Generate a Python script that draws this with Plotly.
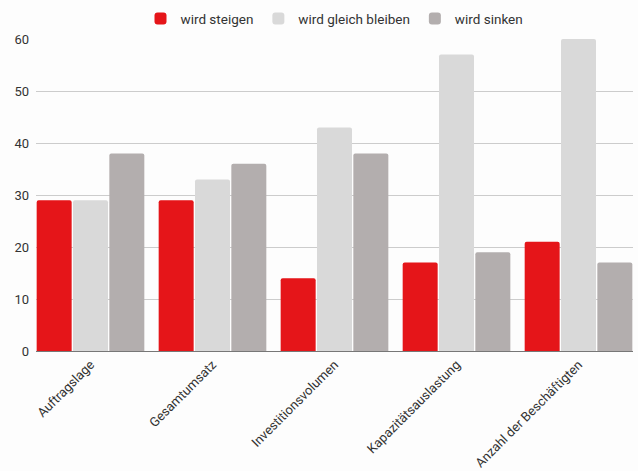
import plotly.graph_objects as go

categories = ["Auftragslage", "Gesamtumsatz", "Investitionsvolumen",
              "Kapazitätsauslastung", "Anzahl der Beschäftigten"]
steigen = [29, 29, 14, 17, 21]
gleich = [29, 33, 43, 57, 60]
sinken = [38, 36, 38, 19, 17]

series = [
    ("wird steigen", steigen, "#E51519"),
    ("wird gleich bleiben", gleich, "#D9D9D9"),
    ("wird sinken", sinken, "#B3AEAE"),
]

fig = go.Figure()
for name, vals, color in series:
    fig.add_trace(go.Bar(x=categories, y=vals, name=name,
                         marker=dict(color=color, line=dict(width=0))))

bargap = 0.1066
edge = bargap / 2

font = "Roboto, 'DejaVu Sans', sans-serif"
fig.update_layout(
    width=638, height=471,
    margin=dict(l=36, r=5, t=39, b=120),
    paper_bgcolor="#FDFDFD", plot_bgcolor="#FDFDFD",
    barmode="group", bargap=bargap, bargroupgap=0.037, barcornerradius=2,
    font=dict(family=font, size=13, color="#333333"),
    legend=dict(orientation="h", x=0.5, xanchor="center", y=0.96, yanchor="middle",
                yref="container", font=dict(size=13.5, color="#333333"),
                traceorder="normal"),
    showlegend=True,
)
fig.update_xaxes(showgrid=False, tickangle=-45, showline=True, linecolor="#777777",
                 linewidth=1, ticks="", automargin=False,
                 range=[-0.5 + edge, len(categories) - 0.5 - edge],
                 tickfont=dict(size=13, color="#333333"))
fig.update_yaxes(range=[0, 60], dtick=10, showgrid=True, gridcolor="#CCCCCC",
                 gridwidth=1, zeroline=False, ticks="", automargin=False,
                 ticklabelstandoff=6, tickfont=dict(size=13, color="#333333"))

fig.write_html("out.html")
